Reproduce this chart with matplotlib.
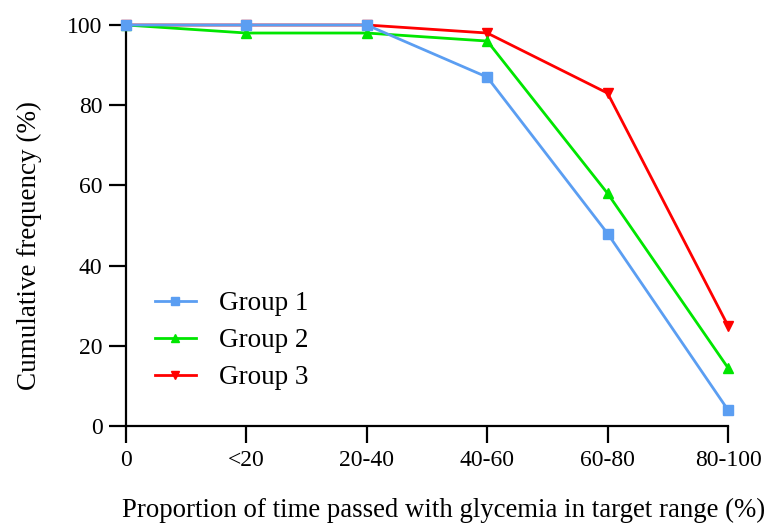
import matplotlib
matplotlib.use("Agg")
import matplotlib.pyplot as plt

categories = ["0", "<20", "20-40", "40-60", "60-80", "80-100"]
group1 = [100, 100, 100, 87, 48, 4]
group2 = [100, 98, 98, 96, 58, 14.5]
group3 = [100, 100, 100, 98, 83, 25]
labels = ["Group 1", "Group 2", "Group 3"]
colors = ["#5B9EF2", "#00E600", "#FF0000"]
markers = ["s", "^", "v"]
zorders = [5, 4, 3]

plt.rcParams['font.family'] = ['Liberation Serif', 'DejaVu Serif']

fig = plt.figure(figsize=(7.76, 5.24), dpi=100)
ax = fig.add_axes([126/776, 1-426/524, (728-126)/776, (426-25)/524])

x = list(range(len(categories)))
for vals, lab, c, m, z in zip([group1, group2, group3], labels, colors, markers, zorders):
    ax.plot(x, vals, color=c, marker=m, markersize=7, linewidth=2.0,
            label=lab, clip_on=False, zorder=z)

ax.set_xlim(0, len(categories) - 1)
ax.set_ylim(0, 100)
ax.set_xticks(x)
ax.set_xticklabels(categories)
ax.set_yticks([0, 20, 40, 60, 80, 100])
for s in ["top", "right"]:
    ax.spines[s].set_visible(False)
for s in ["left", "bottom"]:
    ax.spines[s].set_linewidth(1.6)
ax.tick_params(axis='both', direction='out', length=12, width=1.6,
               labelsize=17, pad=5)
ax.set_ylabel("Cumulative frequency (%)", fontsize=19.5)
ax.yaxis.set_label_coords(-0.1395, 0.451)
ax.set_xlabel("Proportion of time passed with glycemia in target range (%)",
              fontsize=19.3)
ax.xaxis.set_label_coords(0.527, -0.1795)

leg = ax.legend(loc="upper left", bbox_to_anchor=(0.03, 0.3626), frameon=False,
                fontsize=19.5, handlelength=1.5, handletextpad=0.85,
                labelspacing=0.44, markerscale=0.75, borderaxespad=0)

fig.savefig("out.png", dpi=100)
